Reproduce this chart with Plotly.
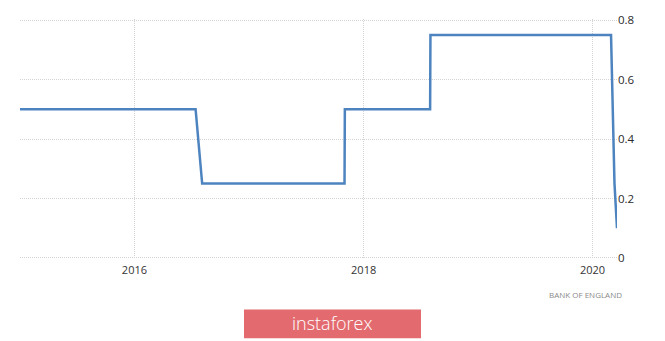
import plotly.graph_objects as go

# Bank of England interest rate (%)
dates = ["2015-01-01", "2016-07-14", "2016-08-04", "2017-11-01", "2017-11-02",
         "2018-08-01", "2018-08-02", "2020-02-29", "2020-03-11", "2020-03-19"]
rates = [0.5, 0.5, 0.25, 0.25, 0.5, 0.5, 0.75, 0.75, 0.25, 0.1]

x_ticks = ["2016-01-01", "2018-01-01", "2020-01-01"]
x_tick_labels = ["2016", "2018", "2020"]
y_ticks = [0, 0.2, 0.4, 0.6, 0.8]
y_tick_labels = ["0", "0.2", "0.4", "0.6", "0.8"]

W, H = 665, 341
L, R, T, B = 20, 48, 17, 82
pw, ph = W - L - R, H - T - B

def px(xp):
    return (xp - L) / pw

def py(yp):
    return (H - B - yp) / ph

fig = go.Figure()
fig.add_trace(go.Scatter(
    x=dates, y=rates, mode="lines",
    line=dict(color="#4d84bf", width=2.5),
    hoverinfo="skip", showlegend=False,
))

font = "Open Sans, DejaVu Sans, sans-serif"
grid = dict(showgrid=True, gridcolor="#d4d4d4", griddash="1px,1px", gridwidth=1)
fig.update_layout(
    width=W, height=H,
    margin=dict(l=L, r=R, t=T, b=B),
    paper_bgcolor="white", plot_bgcolor="white",
    xaxis=dict(
        range=["2015-01-01", "2020-03-19"],
        tickvals=x_ticks, ticktext=x_tick_labels,
        zeroline=False, showline=False, ticks="",
        tickfont=dict(family=font, size=11, color="#333"),
        ticklabelstandoff=3, **grid,
    ),
    yaxis=dict(
        range=[-0.0034, 0.8034], side="right",
        tickvals=y_ticks, ticktext=y_tick_labels,
        zeroline=False, showline=False, ticks="",
        tickfont=dict(family=font, size=11.5, color="#2a2a2a"),
        ticklabelstandoff=0, **grid,
    ),
    shapes=[dict(
        type="rect", xref="paper", yref="paper",
        x0=px(244), x1=px(421), y0=py(339), y1=py(310),
        fillcolor="#e36b6f", line=dict(width=0), layer="above",
    )],
    annotations=[
        dict(text="BANK OF ENGLAND", xref="paper", yref="paper",
             x=px(624), y=py(295), xanchor="right", yanchor="middle",
             showarrow=False, font=dict(family=font, size=8, color="#8a8a8a")),
        dict(text="instaforex", xref="paper", yref="paper",
             x=px(332), y=py(324), xanchor="center", yanchor="middle",
             showarrow=False, font=dict(family="Open Sans, sans-serif", size=18,
                                        color="white", weight=300)),
    ],
)

fig.write_html("out.html")
